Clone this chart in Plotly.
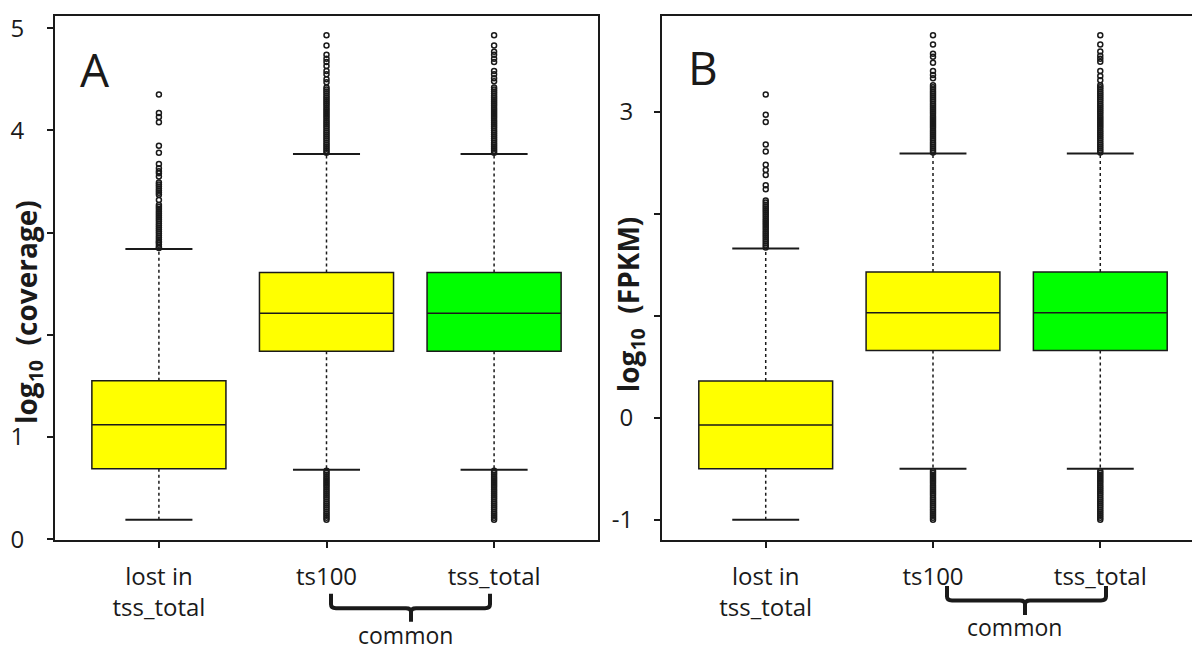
import plotly.graph_objects as go

# x categories (R boxplot positions 1..3)
categories = ["lost in<br>tss_total", "ts100", "tss_total"]
positions = [1, 2, 3]
box_colors = ["#ffff00", "#ffff00", "#00ff00"]

# panel A: log10(coverage)
cov_q1 = [0.69, 1.84, 1.84]
cov_median = [1.12, 2.21, 2.21]
cov_q3 = [1.55, 2.61, 2.61]
cov_lower = [0.19, 0.68, 0.68]
cov_upper = [2.84, 3.77, 3.77]

cov_out_lost = [2.85, 2.86, 2.88, 2.90, 2.91, 2.93, 2.95, 2.97, 2.99, 3.01, 3.03, 3.05,
                3.07, 3.09, 3.11, 3.13, 3.15, 3.17, 3.19, 3.21, 3.23, 3.25, 3.27, 3.32,
                3.37, 3.39, 3.41, 3.43, 3.45, 3.47, 3.49, 3.55, 3.58, 3.60, 3.63, 3.67,
                3.78, 3.85, 4.08, 4.13, 4.17, 4.35]
cov_out_ts100 = [0.19, 0.21, 0.23, 0.25, 0.27, 0.29, 0.31, 0.33, 0.35, 0.37, 0.39, 0.41,
                 0.43, 0.45, 0.47, 0.49, 0.51, 0.53, 0.55, 0.57, 0.59, 0.61, 0.63, 0.65,
                 0.67, 3.78, 3.80, 3.82, 3.84, 3.86, 3.88, 3.90, 3.92, 3.94, 3.96, 3.98,
                 4.00, 4.02, 4.04, 4.06, 4.08, 4.10, 4.12, 4.14, 4.16, 4.18, 4.20, 4.22,
                 4.24, 4.26, 4.28, 4.30, 4.32, 4.34, 4.36, 4.38, 4.40, 4.42, 4.47, 4.50,
                 4.55, 4.58, 4.63, 4.67, 4.70, 4.74, 4.83, 4.93]
cov_out_tss = [0.19, 0.21, 0.23, 0.25, 0.27, 0.29, 0.31, 0.33, 0.35, 0.37, 0.39, 0.41,
               0.43, 0.45, 0.47, 0.49, 0.51, 0.53, 0.55, 0.57, 0.59, 0.61, 0.63, 0.65,
               0.67, 3.78, 3.80, 3.82, 3.84, 3.86, 3.88, 3.90, 3.92, 3.94, 3.96, 3.98,
               4.00, 4.02, 4.04, 4.06, 4.08, 4.10, 4.12, 4.14, 4.16, 4.18, 4.20, 4.22,
               4.24, 4.26, 4.28, 4.30, 4.32, 4.34, 4.36, 4.38, 4.40, 4.42, 4.48, 4.51,
               4.55, 4.58, 4.67, 4.70, 4.74, 4.77, 4.83, 4.93]

# panel B: log10(FPKM)
fpkm_q1 = [-0.50, 0.66, 0.66]
fpkm_median = [-0.07, 1.03, 1.03]
fpkm_q3 = [0.36, 1.43, 1.43]
fpkm_lower = [-1.00, -0.50, -0.50]
fpkm_upper = [1.66, 2.59, 2.59]

fpkm_out_lost = [1.67, 1.69, 1.71, 1.73, 1.75, 1.77, 1.79, 1.81, 1.83, 1.85, 1.87, 1.89,
                 1.91, 1.93, 1.95, 1.97, 1.99, 2.01, 2.03, 2.05, 2.07, 2.09, 2.11, 2.13,
                 2.24, 2.28, 2.38, 2.43, 2.48, 2.61, 2.68, 2.90, 2.97, 3.17]
fpkm_out_ts100 = [-1.00, -0.98, -0.96, -0.94, -0.92, -0.90, -0.88, -0.86, -0.84, -0.82,
                  -0.80, -0.78, -0.76, -0.74, -0.72, -0.70, -0.68, -0.66, -0.64, -0.62,
                  -0.60, -0.58, -0.56, -0.54, -0.52, 2.60, 2.62, 2.64, 2.66, 2.68, 2.70,
                  2.72, 2.74, 2.76, 2.78, 2.80, 2.82, 2.84, 2.86, 2.88, 2.90, 2.92, 2.94,
                  2.96, 2.98, 3.00, 3.02, 3.04, 3.06, 3.08, 3.10, 3.12, 3.14, 3.16, 3.18,
                  3.20, 3.22, 3.24, 3.26, 3.33, 3.36, 3.40, 3.48, 3.54, 3.57, 3.66, 3.75]
fpkm_out_tss = [-1.00, -0.98, -0.96, -0.94, -0.92, -0.90, -0.88, -0.86, -0.84, -0.82,
                -0.80, -0.78, -0.76, -0.74, -0.72, -0.70, -0.68, -0.66, -0.64, -0.62,
                -0.60, -0.58, -0.56, -0.54, -0.52, 2.60, 2.62, 2.64, 2.66, 2.68, 2.70,
                2.72, 2.74, 2.76, 2.78, 2.80, 2.82, 2.84, 2.86, 2.88, 2.90, 2.92, 2.94,
                2.96, 2.98, 3.00, 3.02, 3.04, 3.06, 3.08, 3.10, 3.12, 3.14, 3.16, 3.18,
                3.20, 3.22, 3.24, 3.26, 3.31, 3.35, 3.40, 3.49, 3.52, 3.55, 3.59, 3.66, 3.75]

W, H = 1200, 655
INK = "#1a1a1a"
FONT = "Open Sans"


def px(x):
    return x / W


def py(y):
    return 1 - y / H


def add_panel(fig, xa, ya, q1, med, q3, lo, hi, outliers):
    for i, pos in enumerate(positions):
        fig.add_trace(go.Box(
            x=[pos], q1=[q1[i]], median=[med[i]], q3=[q3[i]],
            lowerfence=[q1[i]], upperfence=[q3[i]],
            width=0.8, whiskerwidth=0,
            fillcolor=box_colors[i], line=dict(color=INK, width=1.5),
            xaxis=xa, yaxis=ya, showlegend=False, hoverinfo="skip",
        ))
        # dotted whiskers
        fig.add_trace(go.Scatter(
            x=[pos, pos, None, pos, pos], y=[q3[i], hi[i], None, q1[i], lo[i]],
            mode="lines", line=dict(color=INK, width=1.5, dash="dot"),
            xaxis=xa, yaxis=ya, showlegend=False, hoverinfo="skip",
        ))
        # whisker caps
        fig.add_trace(go.Scatter(
            x=[pos - 0.2, pos + 0.2, None, pos - 0.2, pos + 0.2],
            y=[hi[i], hi[i], None, lo[i], lo[i]],
            mode="lines", line=dict(color=INK, width=2),
            xaxis=xa, yaxis=ya, showlegend=False, hoverinfo="skip",
        ))
        fig.add_trace(go.Scatter(
            x=[pos] * len(outliers[i]), y=outliers[i], mode="markers",
            marker=dict(symbol="circle-open", size=5, color=INK, line=dict(width=1.5)),
            xaxis=xa, yaxis=ya, showlegend=False, hoverinfo="skip",
        ))


fig = go.Figure()
add_panel(fig, "x", "y", cov_q1, cov_median, cov_q3, cov_lower, cov_upper,
          [cov_out_lost, cov_out_ts100, cov_out_tss])
add_panel(fig, "x2", "y2", fpkm_q1, fpkm_median, fpkm_q3, fpkm_lower, fpkm_upper,
          [fpkm_out_lost, fpkm_out_ts100, fpkm_out_tss])

axis_common = dict(showline=True, mirror=True, linecolor=INK, linewidth=2,
                   ticks="outside", ticklen=6, tickwidth=1.5, tickcolor=INK,
                   showgrid=False, zeroline=False, ticklabeloverflow="allow",
                   tickfont=dict(family=FONT, size=24, color=INK))

fig.update_layout(
    width=W, height=H,
    margin=dict(l=0, r=0, t=0, b=0),
    paper_bgcolor="white", plot_bgcolor="white",
    xaxis=dict(domain=[px(47), px(590)], range=[0.38, 3.62], anchor="y",
               tickvals=positions, ticktext=categories, ticklabelstandoff=8, **axis_common),
    yaxis=dict(domain=[py(543), py(3)], range=[-0.01, 5.12], anchor="x",
               tickvals=[0, 1, 2, 3, 4, 5], ticktext=["0", "1", "", "", "4", "5"],
               ticklabelstandoff=18, **axis_common),
    xaxis2=dict(domain=[px(654), px(1196)], range=[0.38, 3.62], anchor="y2",
                tickvals=positions, ticktext=categories, ticklabelstandoff=8, **axis_common),
    yaxis2=dict(domain=[py(543), py(3)], range=[-1.2, 3.94], anchor="x2",
                tickvals=[-1, 0, 1, 2, 3], ticktext=["-1", "0", "", "", "3"],
                ticklabelstandoff=16, **axis_common),
)


def brace(xl, xr, xm, ytop, ybar, ystem):
    pts = [
        f"M {px(xl)},{py(ytop)}", f"L {px(xl)},{py(ybar - 4)}",
        f"Q {px(xl)},{py(ybar)} {px(xl + 5)},{py(ybar)}",
        f"L {px(xm - 5)},{py(ybar)}",
        f"Q {px(xm)},{py(ybar)} {px(xm)},{py(ybar + 4)}",
        f"L {px(xm)},{py(ystem)}",
        f"M {px(xm)},{py(ybar + 4)}",
        f"Q {px(xm)},{py(ybar)} {px(xm + 5)},{py(ybar)}",
        f"L {px(xr - 5)},{py(ybar)}",
        f"Q {px(xr)},{py(ybar)} {px(xr)},{py(ybar - 4)}",
        f"L {px(xr)},{py(ytop)}",
    ]
    return dict(type="path", xref="paper", yref="paper", path=" ".join(pts),
                line=dict(color=INK, width=4))


fig.update_layout(shapes=[brace(323, 482, 403, 598, 613, 627),
                          brace(939, 1098, 1017, 590, 605, 620)])

notes = [
    ("A", 87, 58, 46, 0, 400),
    ("B", 695, 56, 46, 0, 400),
    ("log<sub>10</sub>&#160;&#160;(coverage)", 20, 308, 28, -90, 700),
    ("log<sub>10</sub>&#160;&#160;(FPKM)", 622, 300, 28, -90, 700),
    ("common", 397, 641, 23, 0, 400),
    ("common", 1007, 632, 23, 0, 400),
]
for text, x, y, size, angle, weight in notes:
    fig.add_annotation(text=text, x=px(x), y=py(y), xref="paper", yref="paper",
                       xanchor="center", yanchor="middle", showarrow=False,
                       textangle=angle,
                       font=dict(family=FONT, size=size, color=INK, weight=weight))

fig.write_html("out.html")
